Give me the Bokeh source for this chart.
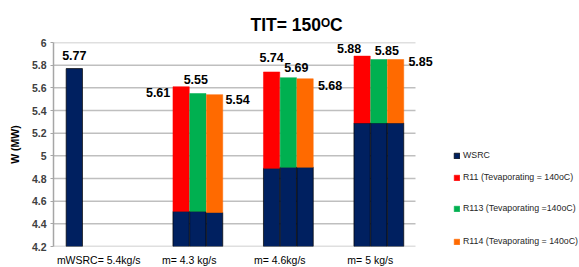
from bokeh.plotting import figure
from bokeh.models import (ColumnDataSource, LabelSet, FixedTicker, Legend, LegendItem,
                          Range1d, Title)
from bokeh.core.properties import value
from bokeh.embed import file_html
from bokeh.resources import INLINE

# ---------------- data ----------------
categories = ["mWSRC= 5.4kg/s", "m= 4.3 kg/s", "m= 4.6kg/s", "m= 5 kg/s"]
wsrc_alone = 5.77                       # WSRC on its own, first category
wsrc_base = [4.51, 4.51, 4.50,          # WSRC part under R11 / R113 / R114, m=4.3
             4.89, 4.90, 4.90,          # m=4.6
             5.29, 5.29, 5.29]          # m=5
r11_total = [5.61, 5.74, 5.88]
r113_total = [5.55, 5.69, 5.85]
r114_total = [5.54, 5.68, 5.85]
y_ticks = [4.2, 4.4, 4.6, 4.8, 5.0, 5.2, 5.4, 5.6, 5.8, 6.0]
y_tick_labels = ["4.2", "4.4", "4.6", "4.8", "5", "5.2", "5.4", "5.6", "5.8", "6"]
legend_labels = ["WSRC", "R11 (Tevaporating = 140oC)",
                 "R113 (Tevaporating =140oC)", "R114 (Tevaporating = 140oC)"]

# ---------------- style ----------------
NAVY, RED, GREEN, ORANGE = "#002060", "#FF0000", "#00B050", "#FF6A00"
slot = [0.23, 0.41, 0.595, 0.78]   # bar slot positions within a category
bw = 0.18
Y0 = y_ticks[0]
FONT = "Liberation Sans"
PLOT_W = 362          # px used by the categories
FRAME_W = 526         # frame incl. legend area on the right
n = len(categories)

p = figure(frame_width=FRAME_W, frame_height=204, output_backend="svg", toolbar_location=None,
           x_range=Range1d(0, n * FRAME_W / PLOT_W), y_range=Range1d(y_ticks[0], y_ticks[-1]),
           min_border_left=53, min_border_right=0, min_border_top=42, min_border_bottom=21)
p.outline_line_color = None
p.background_fill_color = "white"

# gridlines only over the category area
p.segment(x0=0, x1=n, y0=y_ticks, y1=y_ticks, line_color="#BFBFBF", line_width=1.5)

# WSRC alone
r_wsrc = p.vbar(x=[0 + slot[0]], top=[wsrc_alone], bottom=Y0, width=bw,
                fill_color=NAVY, line_color="#000000", line_width=0.7)

# stacked groups
xs_r11 = [g + slot[1] for g in range(1, 4)]
xs_r113 = [g + slot[2] for g in range(1, 4)]
xs_r114 = [g + slot[3] for g in range(1, 4)]
base_r11 = wsrc_base[0::3]
base_r113 = wsrc_base[1::3]
base_r114 = wsrc_base[2::3]

top_renderers = []
for xs, base, tot, col in [(xs_r11, base_r11, r11_total, RED),
                           (xs_r113, base_r113, r113_total, GREEN),
                           (xs_r114, base_r114, r114_total, ORANGE)]:
    p.vbar(x=xs, top=base, bottom=Y0, width=bw, fill_color=NAVY,
           line_color="#000000", line_width=0.7)
    top_renderers.append(p.vbar(x=xs, top=tot, bottom=base, width=bw, fill_color=col,
                                line_color=col, line_width=0.5))

# data labels
lab_x = [0 + slot[0]] + [v for trip in zip(xs_r11, xs_r113, xs_r114) for v in trip]
lab_y = [wsrc_alone] + [v for trip in zip(r11_total, r113_total, r114_total) for v in trip]
lab_t = ["%.2f" % v for v in lab_y]
x_off = [0, -23, -2, 23, 0, 8, 25, -13, 8, 25]
y_off = [13, -6, 14, -5, 14, 10, -7, 8, 9, -2]
src = ColumnDataSource(dict(x=lab_x, y=lab_y, t=lab_t, xo=x_off, yo=y_off))
p.add_layout(LabelSet(x="x", y="y", text="t", x_offset="xo", y_offset="yo", source=src,
                      text_align="center", text_baseline="middle",
                      text_font=value(FONT), text_font_style="bold",
                      text_font_size="12.5px", text_color="#000000"))

# axes
p.xaxis.ticker = FixedTicker(ticks=[i + 0.5 for i in range(n)])
p.xaxis.major_label_overrides = {i + 0.5: c for i, c in enumerate(categories)}
p.xaxis.major_tick_line_color = None
p.xaxis.minor_tick_line_color = None
p.xaxis.axis_line_color = None
p.xaxis.major_label_text_font = FONT
p.xaxis.major_label_text_font_size = "10.5px"
p.xaxis.major_label_text_color = "#000000"
p.xaxis.major_label_standoff = 1

p.yaxis.ticker = FixedTicker(ticks=y_ticks)
p.yaxis.major_label_overrides = {t: l for t, l in zip(y_ticks, y_tick_labels)}
p.yaxis.axis_line_color = "#A6A6A6"
p.yaxis.axis_line_width = 1.5
p.yaxis.major_tick_line_color = "#A6A6A6"
p.yaxis.major_tick_in = 0
p.yaxis.major_tick_out = 3
p.yaxis.minor_tick_line_color = None
p.yaxis.major_label_text_font = FONT
p.yaxis.major_label_text_font_style = "bold"
p.yaxis.major_label_text_font_size = "10.5px"
p.yaxis.major_label_text_color = "#404040"
p.yaxis.major_label_standoff = 4
p.yaxis.axis_label = "W (MW)"
p.yaxis.axis_label_text_font = FONT
p.yaxis.axis_label_text_font_style = "bold"
p.yaxis.axis_label_text_font_size = "10.5px"
p.yaxis.axis_label_text_color = "#000000"
p.yaxis.axis_label_standoff = 8

p.xgrid.grid_line_color = None
p.ygrid.grid_line_color = None

# title
p.add_layout(Title(text="TIT= 150\u1d3cC", align="left", offset=197,
                   text_font=FONT, text_font_style="bold", text_font_size="17.5px",
                   text_color="#000000", standoff=15), "above")

# legend: separate single-item legends for exact row placement
leg_renderers = [r_wsrc] + top_renderers
leg_y = [86, 64, 33, 0]
for name, r, ly in zip(legend_labels, leg_renderers, leg_y):
    lg = Legend(items=[LegendItem(label=name, renderers=[r])], location=(400, ly),
                border_line_color=None, background_fill_alpha=0, padding=0, margin=0,
                glyph_width=7, glyph_height=7, label_standoff=3, label_height=8,
                label_text_font=FONT, label_text_font_size="8.8px",
                label_text_color="#262626")
    p.add_layout(lg, "center")

open("out.html", "w").write(file_html(p, INLINE))
